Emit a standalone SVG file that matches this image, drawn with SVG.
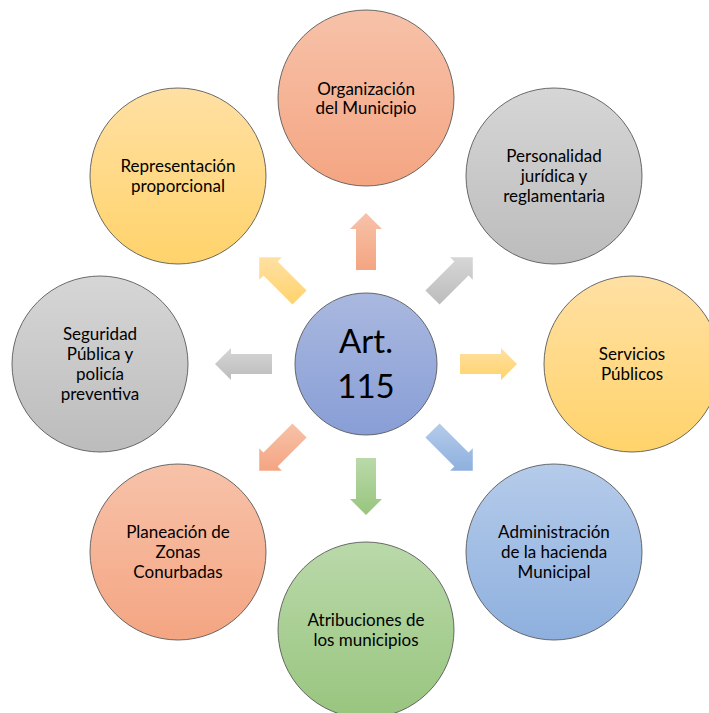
<svg xmlns="http://www.w3.org/2000/svg" width="709" height="713" viewBox="0 0 709 713">
<defs>
<linearGradient id="gSal" x1="0" y1="0" x2="0" y2="1"><stop offset="0" stop-color="#F7C2A9"/><stop offset="1" stop-color="#F4A582"/></linearGradient>
<linearGradient id="gGry" x1="0" y1="0" x2="0" y2="1"><stop offset="0" stop-color="#D6D6D6"/><stop offset="1" stop-color="#BCBCBC"/></linearGradient>
<linearGradient id="gYel" x1="0" y1="0" x2="0" y2="1"><stop offset="0" stop-color="#FFE0A3"/><stop offset="1" stop-color="#FFD36B"/></linearGradient>
<linearGradient id="gBlu" x1="0" y1="0" x2="0" y2="1"><stop offset="0" stop-color="#B5CBEA"/><stop offset="1" stop-color="#8EB0DE"/></linearGradient>
<linearGradient id="gGrn" x1="0" y1="0" x2="0" y2="1"><stop offset="0" stop-color="#BAD9AA"/><stop offset="1" stop-color="#98C57E"/></linearGradient>
<linearGradient id="gCen" x1="0" y1="0" x2="0" y2="1"><stop offset="0" stop-color="#A9B8DF"/><stop offset="1" stop-color="#889ED6"/></linearGradient>
</defs>
<style>
.c{stroke:#5a5a5a;stroke-width:0.9}
.t{font-family:Lato,"Open Sans","Liberation Sans",sans-serif;font-size:17px;fill:#000;text-anchor:middle}
.big{font-family:Lato,"Open Sans","Liberation Sans",sans-serif;font-size:33px;fill:#000;text-anchor:middle}
</style>
<rect width="709" height="713" fill="#fff"/>
<g id="connectors">
<polygon fill="url(#gSal)" points="356,270 356,229 350,229 366,213 382,229 376,229 376,270"/>
<polygon fill="url(#gGry)" points="425.4,290.46 454.39,261.47 450.15,257.23 472.77,257.23 472.77,279.85 468.53,275.61 439.54,304.6"/>
<polygon fill="url(#gYel)" points="460,354 501,354 501,348 517,364 501,380 501,374 460,374"/>
<polygon fill="url(#gBlu)" points="425.4,437.54 454.39,466.53 450.15,470.77 472.77,470.77 472.77,448.15 468.53,452.39 439.54,423.4"/>
<polygon fill="url(#gGrn)" points="376,458 376,499 382,499 366,515 350,499 356,499 356,458"/>
<polygon fill="url(#gSal)" points="306.6,437.54 277.61,466.53 281.85,470.77 259.23,470.77 259.23,448.15 263.47,452.39 292.46,423.4"/>
<polygon fill="url(#gGry)" points="272,374 231,374 231,380 215,364 231,348 231,354 272,354"/>
<polygon fill="url(#gYel)" points="306.6,290.46 277.61,261.47 281.85,257.23 259.23,257.23 259.23,279.85 263.47,275.61 292.46,304.6"/>
</g>
<g id="center">
<circle class="c" cx="366" cy="364" r="71" fill="url(#gCen)"/>
<text class="big" x="366" y="353">Art.</text>
<text class="big" x="366" y="398">115</text>
</g>
<g id="organizacion">
<circle class="c" cx="366" cy="98" r="88" fill="url(#gSal)"/>
<text class="t" x="366" y="95">Organización</text>
<text class="t" x="366" y="114">del Municipio</text>
</g>
<g id="personalidad">
<circle class="c" cx="554" cy="176" r="88" fill="url(#gGry)"/>
<text class="t" x="554" y="162">Personalidad</text>
<text class="t" x="554" y="182">jurídica y</text>
<text class="t" x="554" y="202">reglamentaria</text>
</g>
<g id="servicios">
<circle class="c" cx="632" cy="364" r="88" fill="url(#gYel)"/>
<text class="t" x="632" y="360">Servicios</text>
<text class="t" x="632" y="380">Públicos</text>
</g>
<g id="administracion">
<circle class="c" cx="554" cy="552" r="88" fill="url(#gBlu)"/>
<text class="t" x="554" y="538">Administración</text>
<text class="t" x="554" y="558">de la hacienda</text>
<text class="t" x="554" y="578">Municipal</text>
</g>
<g id="atribuciones">
<circle class="c" cx="366" cy="630" r="88" fill="url(#gGrn)"/>
<text class="t" x="366" y="626">Atribuciones de</text>
<text class="t" x="366" y="646">los municipios</text>
</g>
<g id="planeacion">
<circle class="c" cx="178" cy="552" r="88" fill="url(#gSal)"/>
<text class="t" x="178" y="538">Planeación de</text>
<text class="t" x="178" y="558">Zonas</text>
<text class="t" x="178" y="578">Conurbadas</text>
</g>
<g id="seguridad">
<circle class="c" cx="100" cy="364" r="88" fill="url(#gGry)"/>
<text class="t" x="100" y="340">Seguridad</text>
<text class="t" x="100" y="360">Pública y</text>
<text class="t" x="100" y="380">policía</text>
<text class="t" x="100" y="400">preventiva</text>
</g>
<g id="representacion">
<circle class="c" cx="178" cy="176" r="88" fill="url(#gYel)"/>
<text class="t" x="178" y="172">Representación</text>
<text class="t" x="178" y="192">proporcional</text>
</g>
</svg>
